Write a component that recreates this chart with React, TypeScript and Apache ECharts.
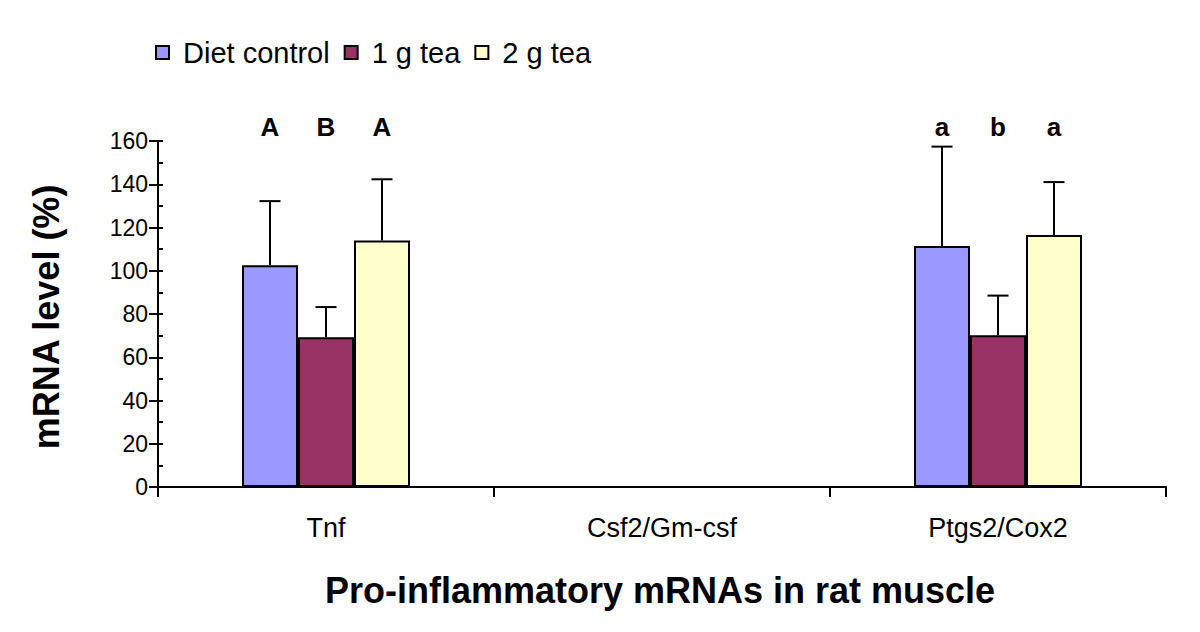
import React, { useEffect, useRef } from "react";
import * as echarts from "echarts";

const categories = ["Tnf", "Csf2/Gm-csf", "Ptgs2/Cox2"];
const seriesNames = ["Diet control", "1 g tea", "2 g tea"];
const seriesColors = ["#9999FF", "#993366", "#FFFFCC"];

// mean values (%)
const dietControl = [102.5, null, 111.4];
const tea1g = [69.2, null, 70.2];
const tea2g = [114.0, null, 116.5];

// upper ends of error bars (%)
const dietControlUpper = [132.2, null, 157.4];
const tea1gUpper = [83.2, null, 88.5];
const tea2gUpper = [142.3, null, 141.0];

// significance letters per series, per category
const dietControlLetters = ["A", "", "a"];
const tea1gLetters = ["B", "", "b"];
const tea2gLetters = ["A", "", "a"];

const yTicks = [0, 20, 40, 60, 80, 100, 120, 140, 160];
const letterLevel = 160;

const FONT = '"Liberation Sans", Arial, sans-serif';

export default function App() {
  const ref = useRef<HTMLDivElement>(null);

  useEffect(() => {
    if (!ref.current) return;
    const chart = echarts.init(ref.current, undefined, { renderer: "svg" });

    const means = [dietControl, tea1g, tea2g];
    const uppers = [dietControlUpper, tea1gUpper, tea2gUpper];
    const letters = [dietControlLetters, tea1gLetters, tea2gLetters];
    const nSeries = seriesNames.length;
    const barFrac = 0.5; // portion of the category used by the bar group

    const offsetFor = (api: any, sIdx: number) => {
      const band = api.size([1, 0])[0];
      const barW = (band * barFrac) / nSeries;
      return (sIdx - (nSeries - 1) / 2) * barW;
    };

    const barSeries = seriesNames.map((name, i) => ({
      name,
      type: "bar",
      yAxisIndex: 0,
      data: means[i],
      barGap: "0%",
      barCategoryGap: "50%",
      itemStyle: { color: seriesColors[i], borderColor: "#000", borderWidth: 2 },
      z: 2,
    }));

    const errorSeries = seriesNames.map((name, i) => ({
      name: name + " error",
      type: "custom",
      yAxisIndex: 0,
      z: 1,
      data: categories
        .map((_, c) => [c, means[i][c], uppers[i][c]])
        .filter((d) => d[1] != null),
      renderItem: (params: any, api: any) => {
        const c = api.value(0);
        const base = api.coord([c, api.value(1)]);
        const top = api.coord([c, api.value(2)]);
        const x = base[0] + offsetFor(api, i);
        const cap = 10.5;
        return {
          type: "group",
          children: [
            {
              type: "line",
              shape: { x1: x, y1: base[1], x2: x, y2: top[1] },
              style: { stroke: "#000", lineWidth: 2 },
            },
            {
              type: "line",
              shape: { x1: x - cap, y1: top[1], x2: x + cap, y2: top[1] },
              style: { stroke: "#000", lineWidth: 2 },
            },
          ],
        };
      },
    }));

    const letterSeries = seriesNames.map((name, i) => {
      const dataArr = categories
        .map((_, k) => [k, letterLevel, letters[i][k]])
        .filter((d) => d[2] !== "");
      return {
        name: name + " letters",
        type: "custom",
        yAxisIndex: 0,
        clip: false,
        z: 3,
        data: dataArr,
        renderItem: (params: any, api: any) => {
          const c = api.value(0);
          const p = api.coord([c, api.value(1)]);
          const idx = params.dataIndexInside;
          return {
            type: "text",
            x: p[0] + offsetFor(api, i),
            y: p[1] - 1,
            style: {
              text: String(dataArr[idx][2]),
              fontFamily: FONT,
              fontWeight: "bold",
              fontSize: 26,
              fill: "#000",
              align: "center",
              verticalAlign: "bottom",
            },
          };
        },
      };
    });

    const option: any = {
      animation: false,
      backgroundColor: "#fff",
      textStyle: { fontFamily: FONT },
      legend: {
        data: seriesNames,
        left: 155,
        top: 38,
        padding: 0,
        itemWidth: 13,
        itemHeight: 13,
        itemGap: 14,
        icon: "rect",
        textStyle: {
          fontFamily: FONT,
          fontSize: 29,
          color: "#000",
          padding: [0, 0, 0, 9],
        },
      },
      grid: { left: 158, right: 34, top: 141, bottom: 145, containLabel: false },
      xAxis: {
        type: "category",
        data: categories,
        axisLine: { show: true, lineStyle: { color: "#000", width: 2 } },
        axisTick: { show: true, length: 10, lineStyle: { color: "#000", width: 2 } },
        axisLabel: { fontFamily: FONT, fontSize: 27, color: "#000", margin: 27 },
        splitLine: { show: false },
      },
      yAxis: [
        {
          type: "value",
          min: yTicks[0],
          max: yTicks[yTicks.length - 1],
          interval: yTicks[1] - yTicks[0],
          axisLine: { show: true, lineStyle: { color: "#000", width: 2 } },
          axisTick: { show: true, length: 9, lineStyle: { color: "#000", width: 2 } },
          axisLabel: { fontFamily: FONT, fontSize: 23, color: "#000", margin: 10 },
          splitLine: { show: false },
        },
        {
          type: "value",
          position: "left",
          min: yTicks[0],
          max: yTicks[yTicks.length - 1],
          interval: yTicks[1] - yTicks[0],
          axisLine: { show: false },
          axisTick: { show: true, inside: true, length: 5, lineStyle: { color: "#000", width: 2 } },
          minorTick: { show: true, splitNumber: 2, length: 5, lineStyle: { color: "#000", width: 2 } },
          axisLabel: { show: false },
          splitLine: { show: false },
          minorSplitLine: { show: false },
        },
      ],
      graphic: [
        {
          type: "text",
          x: 46,
          y: 317,
          rotation: Math.PI / 2,
          style: {
            text: "mRNA level (%)",
            fontFamily: FONT,
            fontWeight: "bold",
            fontSize: 36,
            fill: "#000",
            align: "center",
            verticalAlign: "middle",
          },
        },
        {
          type: "text",
          x: 660,
          y: 590,
          style: {
            text: "Pro-inflammatory mRNAs in rat muscle",
            fontFamily: FONT,
            fontWeight: "bold",
            fontSize: 36,
            fill: "#000",
            align: "center",
            verticalAlign: "middle",
          },
        },
      ],
      series: [...errorSeries, ...barSeries, ...letterSeries],
    };

    chart.setOption(option);
    return () => chart.dispose();
  }, []);

  return <div ref={ref} style={{ width: 1200, height: 632, margin: -8 }} />;
}
